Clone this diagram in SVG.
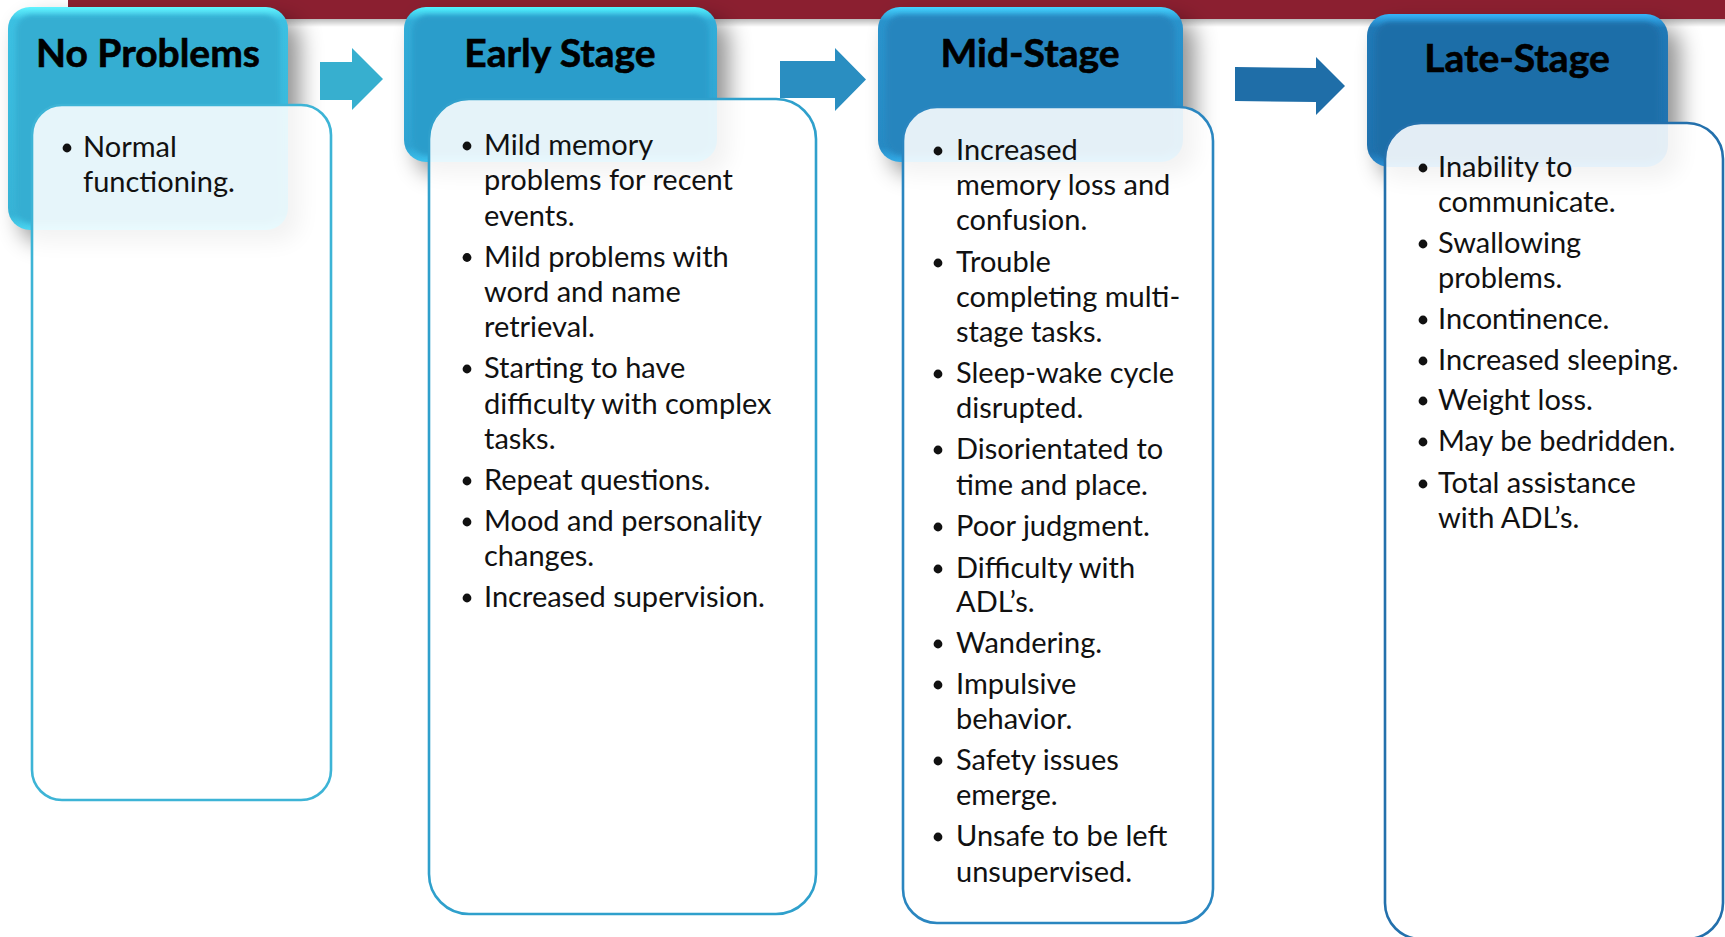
<svg xmlns="http://www.w3.org/2000/svg" width="1725" height="937" viewBox="0 0 1725 937">
<defs>
<style>
.ht{font-family:Lato,"Liberation Sans",sans-serif;font-weight:700;font-size:39px;fill:#000;stroke:#000;stroke-width:0.6;text-anchor:middle}
.bt{font-family:Lato,"Liberation Sans",sans-serif;font-size:29px;fill:#111}
.dot{fill:#111}
.body{fill:#fff;fill-opacity:0.88;stroke-width:2.6}
</style>
<filter id="hsh" x="-30%" y="-30%" width="170%" height="170%">
<feGaussianBlur in="SourceAlpha" stdDeviation="11"/>
<feOffset dx="12" dy="12" result="b"/>
<feFlood flood-color="#000" flood-opacity="0.42"/>
<feComposite in2="b" operator="in"/>
</filter>
<filter id="soft"><feGaussianBlur stdDeviation="2.5"/></filter>
<linearGradient id="barsh" x1="0" y1="0" x2="0" y2="1">
<stop offset="0" stop-color="#000" stop-opacity="0.3"/>
<stop offset="1" stop-color="#000" stop-opacity="0"/>
</linearGradient>
<linearGradient id="g1" x1="0" y1="0" x2="0" y2="1">
<stop offset="0" stop-color="#62F4FF"/><stop offset="0.06" stop-color="#3CC0E2"/><stop offset="0.93" stop-color="#37B3D6"/><stop offset="1" stop-color="#4AD6F2"/>
</linearGradient>
<linearGradient id="g2" x1="0" y1="0" x2="0" y2="1">
<stop offset="0" stop-color="#52F2FF"/><stop offset="0.09" stop-color="#33ADD8"/><stop offset="0.9" stop-color="#2FA3D2"/><stop offset="1" stop-color="#3CC2EE"/>
</linearGradient>
<linearGradient id="g3" x1="0" y1="0" x2="0" y2="1">
<stop offset="0" stop-color="#45D2FF"/><stop offset="0.09" stop-color="#2A93CC"/><stop offset="0.9" stop-color="#278AC4"/><stop offset="1" stop-color="#33ACE8"/>
</linearGradient>
<linearGradient id="g4" x1="0" y1="0" x2="0" y2="1">
<stop offset="0" stop-color="#36B4F8"/><stop offset="0.09" stop-color="#2179B6"/><stop offset="0.9" stop-color="#2072AE"/><stop offset="1" stop-color="#2A90D6"/>
</linearGradient>
</defs>

<g id="banner">
<rect x="68" y="18" width="1657" height="9" fill="url(#barsh)"/>
<rect x="68" y="0" width="1657" height="19" fill="#8B1F30"/>
</g>

<g id="shadows">
<rect x="8" y="7" width="280" height="223" rx="22" fill="#000" filter="url(#hsh)"/>
<rect x="404" y="7" width="313" height="155" rx="22" fill="#000" filter="url(#hsh)"/>
<rect x="878" y="7" width="305" height="155" rx="22" fill="#000" filter="url(#hsh)"/>
<rect x="1367" y="14" width="301" height="153" rx="22" fill="#000" filter="url(#hsh)"/>
</g>

<g id="connectors">
<polygon points="320,62 352,62 352,48 383,79 352,110 352,100 320,100" fill="#37AFCF"/>
<polygon points="780,61 835,61 835,48 866,79.5 835,111 835,98 780,98" fill="#2A8EC1"/>
<polygon points="1235,67 1316,68 1316,57 1345,86 1316,115 1316,102 1235,101" fill="#1F6EA8"/>
</g>

<g id="stage-no-problems">
<rect x="8" y="7" width="280" height="223" rx="22" fill="url(#g1)"/>
<rect x="16" y="15" width="264" height="208" rx="16" fill="#35AED2" filter="url(#soft)"/>
<text class="ht" x="148" y="67">No Problems</text>
<rect class="body" x="32" y="105" width="299" height="695" rx="30" stroke="#3DB4D6"/>
<circle class="dot" cx="67" cy="148" r="4.4"/>
<text class="bt" x="83" y="157">Normal</text>
<text class="bt" x="83" y="192">functioning.</text>
</g>

<g id="stage-early">
<rect x="404" y="7" width="313" height="155" rx="22" fill="url(#g2)"/>
<rect x="412" y="15" width="297" height="140" rx="16" fill="#2C9DCB" filter="url(#soft)"/>
<text class="ht" x="560" y="67">Early Stage</text>
<rect class="body" x="429" y="99" width="387" height="815" rx="40" stroke="#2FA0CC"/>
<circle class="dot" cx="467" cy="146" r="4.4"/>
<text class="bt" x="484" y="155">Mild memory</text>
<text class="bt" x="484" y="190">problems for recent</text>
<text class="bt" x="484" y="225.5">events.</text>
<circle class="dot" cx="467" cy="257.5" r="4.4"/>
<text class="bt" x="484" y="266.5">Mild problems with</text>
<text class="bt" x="484" y="302">word and name</text>
<text class="bt" x="484" y="337">retrieval.</text>
<circle class="dot" cx="467" cy="369" r="4.4"/>
<text class="bt" x="484" y="378">Starting to have</text>
<text class="bt" x="484" y="413.5">difficulty with complex</text>
<text class="bt" x="484" y="448.5">tasks.</text>
<circle class="dot" cx="467" cy="481" r="4.4"/>
<text class="bt" x="484" y="490">Repeat questions.</text>
<circle class="dot" cx="467" cy="522" r="4.4"/>
<text class="bt" x="484" y="531">Mood and personality</text>
<text class="bt" x="484" y="566">changes.</text>
<circle class="dot" cx="467" cy="598" r="4.4"/>
<text class="bt" x="484" y="607">Increased supervision.</text>
</g>

<g id="stage-mid">
<rect x="878" y="7" width="305" height="155" rx="22" fill="url(#g3)"/>
<rect x="886" y="15" width="289" height="140" rx="16" fill="#2585BE" filter="url(#soft)"/>
<text class="ht" x="1030" y="67">Mid-Stage</text>
<rect class="body" x="903" y="107" width="310" height="816" rx="34" stroke="#2A86C0"/>
<circle class="dot" cx="938" cy="151" r="4.4"/>
<text class="bt" x="956" y="160">Increased</text>
<text class="bt" x="956" y="195">memory loss and</text>
<text class="bt" x="956" y="230">confusion.</text>
<circle class="dot" cx="938" cy="263" r="4.4"/>
<text class="bt" x="956" y="272">Trouble</text>
<text class="bt" x="956" y="307">completing multi-</text>
<text class="bt" x="956" y="342">stage tasks.</text>
<circle class="dot" cx="938" cy="374" r="4.4"/>
<text class="bt" x="956" y="383">Sleep-wake cycle</text>
<text class="bt" x="956" y="418">disrupted.</text>
<circle class="dot" cx="938" cy="450" r="4.4"/>
<text class="bt" x="956" y="459">Disorientated to</text>
<text class="bt" x="956" y="495">time and place.</text>
<circle class="dot" cx="938" cy="527" r="4.4"/>
<text class="bt" x="956" y="536">Poor judgment.</text>
<circle class="dot" cx="938" cy="569" r="4.4"/>
<text class="bt" x="956" y="578">Difficulty with</text>
<text class="bt" x="956" y="612">ADL’s.</text>
<circle class="dot" cx="938" cy="644" r="4.4"/>
<text class="bt" x="956" y="653">Wandering.</text>
<circle class="dot" cx="938" cy="685" r="4.4"/>
<text class="bt" x="956" y="694">Impulsive</text>
<text class="bt" x="956" y="729">behavior.</text>
<circle class="dot" cx="938" cy="761" r="4.4"/>
<text class="bt" x="956" y="770">Safety issues</text>
<text class="bt" x="956" y="805">emerge.</text>
<circle class="dot" cx="938" cy="837" r="4.4"/>
<text class="bt" x="956" y="846">Unsafe to be left</text>
<text class="bt" x="956" y="882">unsupervised.</text>
</g>

<g id="stage-late">
<rect x="1367" y="14" width="301" height="153" rx="22" fill="url(#g4)"/>
<rect x="1375" y="22" width="285" height="138" rx="16" fill="#1F6EA8" filter="url(#soft)"/>
<text class="ht" x="1517" y="72">Late-Stage</text>
<rect class="body" x="1385" y="123" width="338" height="816" rx="36" stroke="#2370AC"/>
<circle class="dot" cx="1423" cy="168" r="4.4"/>
<text class="bt" x="1438" y="177">Inability to</text>
<text class="bt" x="1438" y="212">communicate.</text>
<circle class="dot" cx="1423" cy="244" r="4.4"/>
<text class="bt" x="1438" y="253">Swallowing</text>
<text class="bt" x="1438" y="288">problems.</text>
<circle class="dot" cx="1423" cy="320" r="4.4"/>
<text class="bt" x="1438" y="329">Incontinence.</text>
<circle class="dot" cx="1423" cy="361" r="4.4"/>
<text class="bt" x="1438" y="370">Increased sleeping.</text>
<circle class="dot" cx="1423" cy="401" r="4.4"/>
<text class="bt" x="1438" y="410">Weight loss.</text>
<circle class="dot" cx="1423" cy="442" r="4.4"/>
<text class="bt" x="1438" y="451">May be bedridden.</text>
<circle class="dot" cx="1423" cy="484" r="4.4"/>
<text class="bt" x="1438" y="493">Total assistance</text>
<text class="bt" x="1438" y="528">with ADL’s.</text>
</g>
</svg>
